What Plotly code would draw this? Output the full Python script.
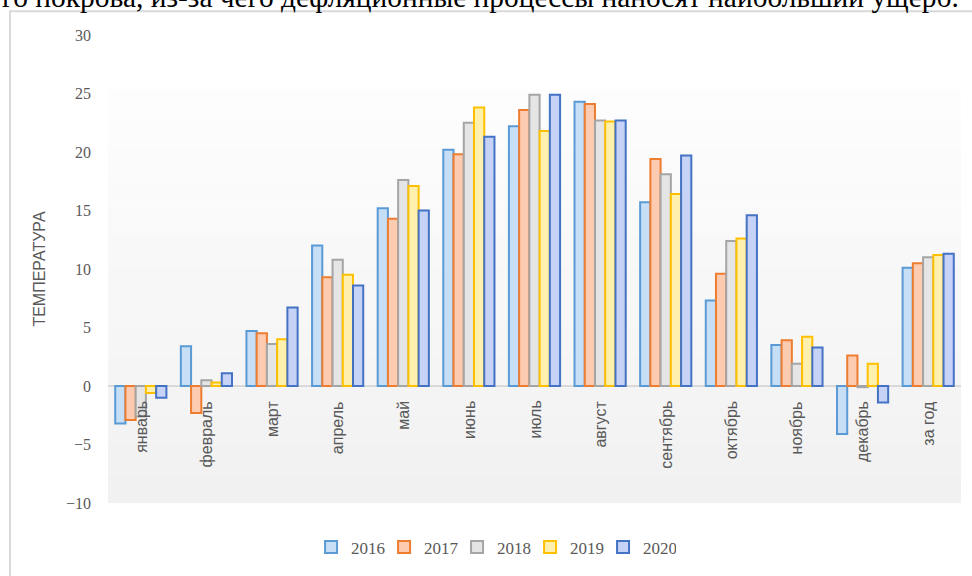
import plotly.graph_objects as go

months = ['январь', 'февраль', 'март', 'апрель', 'май', 'июнь', 'июль',
          'август', 'сентябрь', 'октябрь', 'ноябрь', 'декабрь', 'за год']

t2016 = [-3.2, 3.4, 4.7, 12.0, 15.2, 20.2, 22.2, 24.3, 15.7, 7.3, 3.5, -4.1, 10.1]
t2017 = [-2.9, -2.3, 4.5, 9.3, 14.3, 19.8, 23.6, 24.1, 19.4, 9.6, 3.9, 2.6, 10.5]
t2018 = [-2.6, 0.5, 3.6, 10.8, 17.6, 22.5, 24.9, 22.7, 18.1, 12.4, 1.9, -0.1, 11.0]
t2019 = [-0.6, 0.3, 4.0, 9.5, 17.1, 23.8, 21.8, 22.6, 16.4, 12.6, 4.2, 1.9, 11.2]
t2020 = [-1.0, 1.1, 6.7, 8.6, 15.0, 21.3, 24.9, 22.7, 19.7, 14.6, 3.3, -1.4, 11.3]

years = ['2016', '2017', '2018', '2019', '2020']
series = [t2016, t2017, t2018, t2019, t2020]

# fill (mid tone of the excel gradient) and outline
fills = ['#c6dff6', '#fccbb0', '#e5e5e5', '#fff1ad', '#c6d3f6']
lines = ['#5b9bd5', '#ed7d31', '#a5a5a5', '#ffc000', '#4472c4']

top_text = 'го покрова, из-за чего дефляционные процессы наносят наибольший ущерб.'

fig = go.Figure()

# soft gray gradient panel behind the bars
n_bands = 14
panel_top, panel_bottom = 25.35, -10
for i in range(n_bands):
    y0 = panel_top - (panel_top - panel_bottom) * i / n_bands
    y1 = panel_top - (panel_top - panel_bottom) * (i + 1) / n_bands
    g = int(254 - (254 - 241) * (i + 0.5) / n_bands)
    fig.add_shape(type='rect', xref='paper', yref='y', x0=0, x1=1, y0=y0, y1=y1,
                  fillcolor=f'rgb({g},{g},{g})', line=dict(width=0), layer='below')

for name, vals, fc, lc in zip(years, series, fills, lines):
    fig.add_trace(go.Bar(x=months, y=vals, name=name,
                         marker=dict(color=fc, line=dict(color=lc, width=2))))

# month labels sit just under the zero line, rotated
for m in months:
    fig.add_annotation(x=m, y=0, xref='x', yref='y', text=m, showarrow=False,
                       textangle=-90, xanchor='center', yanchor='top', yshift=-13,
                       font=dict(family='Liberation Sans, sans-serif', size=16, color='#595959'))

# cropped line of text from the page above the chart
fig.add_annotation(x=-0.1266, y=1.0424, xref='paper', yref='paper', text=top_text,
                   showarrow=False, xanchor='left', yanchor='bottom',
                   font=dict(family='Liberation Serif, serif', size=29.4, color='black'))

# chart frame (left and top edges visible)
fig.add_shape(type='path', xref='paper', yref='paper',
              path='M -0.1149,-0.16 L -0.1149,1.0508 L 1.03,1.0508',
              line=dict(color='#d9d9d9', width=2))

fig.update_xaxes(showticklabels=False, showgrid=False, showline=False, ticks='')
fig.update_yaxes(range=[-10, 30], dtick=5, showgrid=False, showline=False,
                 zeroline=True, zerolinecolor='#d9d9d9', zerolinewidth=2,
                 ticklabelstandoff=16,
                 tickfont=dict(family='Liberation Serif, serif', size=16, color='#595959'),
                 title=dict(text='ТЕМПЕРАТУРА', standoff=16,
                            font=dict(family='Liberation Sans, sans-serif', size=16, color='#595959')))

fig.update_layout(
    barmode='group',
    bargap=0.22,
    bargroupgap=0,
    plot_bgcolor='white',
    paper_bgcolor='white',
    width=972,
    height=576,
    margin=dict(l=108, r=11, t=35, b=69),
    showlegend=True,
    legend=dict(orientation='h', x=0.452, xanchor='center', y=-0.095, yanchor='middle',
                font=dict(family='Liberation Serif, serif', size=17, color='#595959'),
                itemwidth=30, entrywidth=28),
)

# the page keeps no body margin, so the figure sits at the window corner
fig.write_html("out.html", config={'displayModeBar': False},
               post_script="document.body.style.margin='0';")
